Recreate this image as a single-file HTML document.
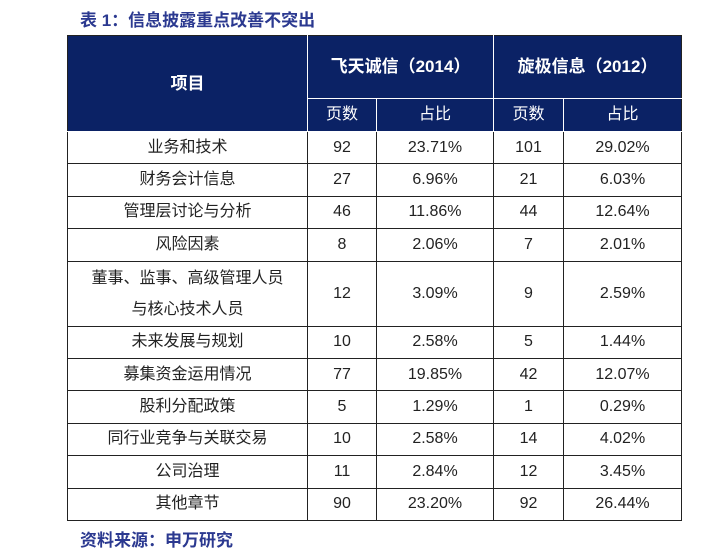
<!DOCTYPE html>
<html><head><meta charset="utf-8"><style>
body{margin:0;width:716px;height:555px;background:#fff;position:relative;overflow:hidden;font-family:"Liberation Sans","Noto Sans CJK SC",sans-serif}
.title{position:absolute;left:80px;top:6px;font-size:17px;font-weight:bold;color:#2b3990}
.src{position:absolute;left:80px;top:526px;font-size:17px;font-weight:bold;color:#2b3990}
table{position:absolute;left:67px;top:35px;border-collapse:collapse;table-layout:fixed}
td,th{border:1.3px solid #222;text-align:center;padding:0;font-size:16px;color:#222;line-height:22px}
th{background:#0b2265;color:#fff;border-color:#fff;font-weight:normal}
th.b{font-weight:bold;font-size:17px}
</style></head><body>
<div class="title">表 1：信息披露重点改善不突出</div>
<table>
<colgroup><col style="width:240px"><col style="width:69px"><col style="width:117px"><col style="width:70px"><col style="width:118px"></colgroup>
<tr style="height:63px"><th class="b" rowspan="2" style="border-left-color:#222;border-top-color:#222">项目</th><th class="b" colspan="2" style="border-top-color:#222">飞天诚信（2014）</th><th class="b" colspan="2" style="border-top-color:#222;border-right-color:#222">旋极信息（2012）</th></tr>
<tr style="height:33px"><th>页数</th><th>占比</th><th>页数</th><th style="border-right-color:#222">占比</th></tr>
<tbody id="tb"></tbody>
</table>
<div class="src">资料来源：申万研究</div>
<script>
const items=["业务和技术","财务会计信息","管理层讨论与分析","风险因素","董事、监事、高级管理人员<br>与核心技术人员","未来发展与规划","募集资金运用情况","股利分配政策","同行业竞争与关联交易","公司治理","其他章节"];
const ftPages=[92,27,46,8,12,10,77,5,10,11,90];
const ftRatio=["23.71%","6.96%","11.86%","2.06%","3.09%","2.58%","19.85%","1.29%","2.58%","2.84%","23.20%"];
const xjPages=[101,21,44,7,9,5,42,1,14,12,92];
const xjRatio=["29.02%","6.03%","12.64%","2.01%","2.59%","1.44%","12.07%","0.29%","4.02%","3.45%","26.44%"];
const tb=document.getElementById('tb');
items.forEach((it,i)=>{
 const tr=document.createElement('tr');
 tr.style.height=(i==4?65:32.4)+'px';
 
 
 [it,ftPages[i],ftRatio[i],xjPages[i],xjRatio[i]].forEach((v,j)=>{
  const td=document.createElement('td');
  td.innerHTML=v;
  if(i==4&&j==0)td.style.lineHeight='31px';
  
  
  tr.appendChild(td);
 });
 tb.appendChild(tr);
});
</script>
</body></html>
